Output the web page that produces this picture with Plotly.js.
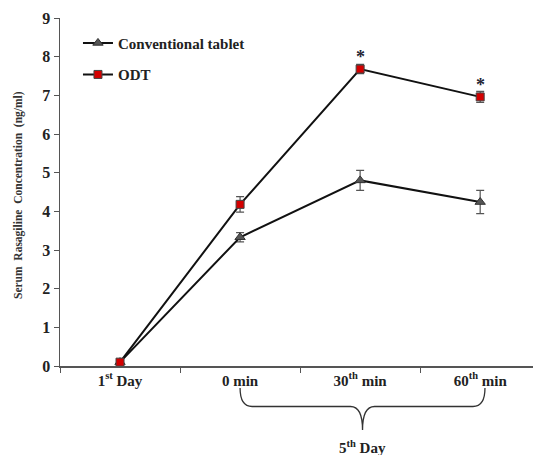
<!DOCTYPE html>
<html><head><meta charset="utf-8">
<script src="https://cdn.plot.ly/plotly-3.0.1.min.js"></script>
<style>body{margin:0;background:#fff}#c{width:533px;height:455px}</style>
</head><body><div id="c"></div>
<script>
var categories = ["1<sup>st</sup> Day", "0 min", "30<sup>th</sup> min", "60<sup>th</sup> min"];
var convValues = [0.10, 3.33, 4.80, 4.24];
var convErrors = [0.05, 0.12, 0.26, 0.30];
var odtValues = [0.10, 4.18, 7.68, 6.96];
var odtErrors = [0.05, 0.20, 0.12, 0.14];
var yTicks = [0,1,2,3,4,5,6,7,8,9];
var serif = "Liberation Serif";

var traces = [
 {x: categories, y: convValues, name: "Conventional tablet", type: "scatter", mode: "lines+markers",
  legendgroup: "a",
  line: {color: "#111", width: 2},
  marker: {symbol: "triangle-up", size: 9, color: "#555", line: {color: "#333", width: 1}},
  error_y: {type: "data", array: convErrors, visible: true, color: "#555", thickness: 1.2, width: 4}},
 {x: categories, y: odtValues, name: "ODT", type: "scatter", mode: "lines+markers",
  legendgroup: "b",
  line: {color: "#111", width: 2},
  marker: {symbol: "square", size: 8, color: "#d40000", line: {color: "#444", width: 1}},
  error_y: {type: "data", array: odtErrors, visible: true, color: "#555", thickness: 1.2, width: 4}}
];

var L = 60, T = 18, W = 533, H = 455, B = 89;
var ph = H - T - B;
function py(p){ return (T + ph - p) / ph; }

var braceTop = py(388), braceMid = py(406.5), braceTip = py(430);
var path = "M 1," + braceTop + " Q 1," + braceMid + " 1.1," + braceMid +
  " L 1.92," + braceMid + " Q 2.02," + braceMid + " 2.02," + braceTip +
  " Q 2.02," + braceMid + " 2.12," + braceMid + " L 2.94," + braceMid +
  " Q 3.04," + braceMid + " 3.04," + braceTop;

var layout = {
 width: W, height: H,
 margin: {l: L, r: 0, t: T, b: B},
 paper_bgcolor: "#fff", plot_bgcolor: "#fff",
 showlegend: true,
 legend: {x: 0.038, y: 0.975, xanchor: "left", yanchor: "top", traceorder: "grouped", tracegroupgap: 9,
   font: {family: serif, size: 15, color: "#222", weight: "bold"}, bgcolor: "rgba(0,0,0,0)", itemwidth: 30},
 xaxis: {type: "category", range: [-0.5, 3.44], showgrid: false, zeroline: false,
   showline: true, linecolor: "#555", linewidth: 1.5,
   ticks: "outside", tickson: "boundaries", ticklen: 5, tickcolor: "#555",
   tickfont: {family: serif, size: 15, color: "#222", weight: "bold"}, fixedrange: true},
 yaxis: {range: [0, 9], tickvals: yTicks, showgrid: false, zeroline: false,
   showline: true, linecolor: "#555", linewidth: 1.5,
   ticks: "outside", ticklen: 5, tickcolor: "#555",
   tickfont: {family: serif, size: 16, color: "#222", weight: "bold"}, fixedrange: true},
 shapes: [{type: "path", xref: "x", yref: "paper", path: path, line: {color: "#333", width: 1.3}}],
 annotations: [
  {text: "Serum  Rasagiline  Concentration  (ng/ml)", textangle: -90, xref: "paper", yref: "paper",
   x: (18 - L) / (W - L), y: py(195), xanchor: "center", yanchor: "middle", showarrow: false,
   font: {family: serif, size: 11.5, color: "#333", weight: "bold"}},
  {text: "5<sup>th</sup> Day", xref: "x", yref: "paper", x: 2.02, y: py(447), xanchor: "center", yanchor: "middle",
   showarrow: false, font: {family: serif, size: 15, color: "#222", weight: "bold"}},
  {text: "*", xref: "x", yref: "y", x: categories[2], y: 8.0, showarrow: false, xanchor: "center", yanchor: "middle",
   font: {family: serif, size: 18, color: "#223", weight: "bold"}},
  {text: "*", xref: "x", yref: "y", x: categories[3], y: 7.28, showarrow: false, xanchor: "center", yanchor: "middle",
   font: {family: serif, size: 18, color: "#223", weight: "bold"}}
 ]
};
Plotly.newPlot("c", traces, layout, {displayModeBar: false, staticPlot: true});
</script></body></html>
